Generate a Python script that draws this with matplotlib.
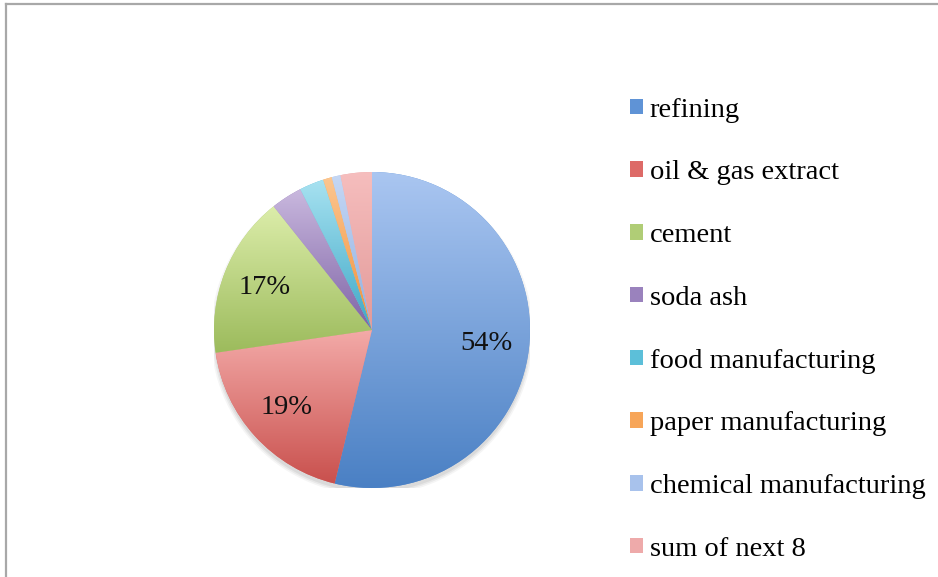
import matplotlib
matplotlib.use("Agg")
import matplotlib.pyplot as plt
import numpy as np
from matplotlib.colors import LinearSegmentedColormap
from matplotlib.patches import Patch, Circle
from matplotlib.lines import Line2D

labels = ["refining", "oil & gas extract", "cement", "soda ash",
          "food manufacturing", "paper manufacturing",
          "chemical manufacturing", "sum of next 8"]
shares = [53.8, 18.9, 16.6, 3.2, 2.5, 0.9, 0.9, 3.2]
light = ["#aac6f1", "#f3aaa8", "#dcedaa", "#c9b8de", "#a8e2f1",
         "#fcc690", "#c5d7f4", "#f6bebe"]
dark = ["#4a80c4", "#c9504d", "#9cbb5c", "#7f64a6", "#3ea8c6",
        "#f08f38", "#8fafe0", "#e29a99"]
mid = ["#5f93d6", "#dd6a67", "#b0cd76", "#9a82bd", "#5cbfd9",
       "#f7a558", "#a8c2ec", "#eeaaaa"]

plt.rcParams["font.family"] = ["Liberation Serif", "DejaVu Serif"]

fig = plt.figure(figsize=(9.38, 5.77), dpi=100)
W, H = 938, 577

# chart frame (top and left edges visible)
fig.add_artist(Line2D([6 / W, 1], [1 - 4 / H, 1 - 4 / H], color="#a8a8a8", lw=1.6))
fig.add_artist(Line2D([6 / W, 6 / W], [0, 1 - 4 / H], color="#a8a8a8", lw=1.6))

cx, cy, r = 372, 330, 158
ax = fig.add_axes([(cx - r) / W, (H - cy - r) / H, 2 * r / W, 2 * r / H])

# soft shadow
for k, a in [(1.02, 0.04), (1.01, 0.05), (1.0, 0.06)]:
    ax.add_patch(Circle((0.0, -0.025), k, color="black", alpha=a, lw=0, zorder=0))

def pct(p):
    return "%d%%" % round(p) if p > 10 else ""

wedges, texts, autotexts = ax.pie(
    shares, colors=mid, startangle=90, counterclock=False,
    autopct=pct, pctdistance=0.73,
    wedgeprops=dict(linewidth=0, edgecolor="none"),
    textprops=dict(fontsize=20.5, color="#111111"))

grad = np.linspace(0, 1, 256).reshape(-1, 1)
for w, c0, c1 in zip(wedges, light, dark):
    bb = w.get_path().get_extents()
    cmap = LinearSegmentedColormap.from_list("g", [c0, c1])
    im = ax.imshow(grad, cmap=cmap, aspect="auto", origin="upper",
                   extent=[bb.x0, bb.x1, bb.y0, bb.y1], zorder=1.5,
                   interpolation="bilinear")
    im.set_clip_path(w)
for t in autotexts:
    t.set_zorder(3)

ax.set_xlim(-1, 1)
ax.set_ylim(-1, 1)
ax.set_aspect("equal")
ax.axis("off")

handles = [Patch(facecolor=c, edgecolor="none") for c in mid]
fig.legend(handles, labels, loc="upper left",
           bbox_to_anchor=(604 / W, 1 - 72 / H), frameon=False,
           fontsize=20.5, handlelength=0.46, handleheight=0.46,
           handletextpad=0.25, labelspacing=1.325)

fig.savefig("out.png", dpi=100)
